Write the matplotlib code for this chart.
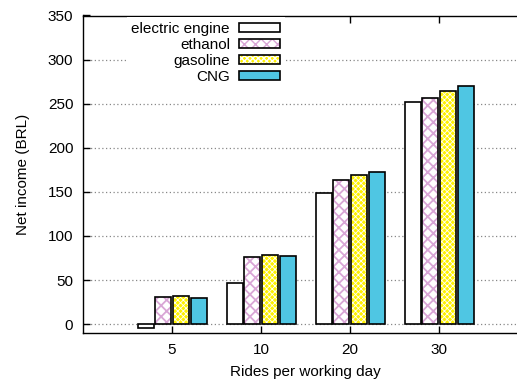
import matplotlib
matplotlib.use("Agg")
import matplotlib.pyplot as plt
import numpy as np
from matplotlib.patches import Patch
from matplotlib.legend_handler import HandlerTuple

categories = ["5", "10", "20", "30"]
series_names = ["electric engine", "ethanol", "gasoline", "CNG"]
electric = [-4, 46.5, 148.5, 252]
ethanol = [30.5, 76, 163.5, 256]
gasoline = [32, 78, 169, 264]
cng = [29.5, 77.5, 172, 270]
yticks = [0, 50, 100, 150, 200, 250, 300, 350]

plt.rcParams['font.family'] = ['Liberation Sans', 'DejaVu Sans']
plt.rcParams['font.size'] = 11

W, H = 517, 381
fig = plt.figure(figsize=(W / 100, H / 100), dpi=100)
ax = fig.add_axes([83 / W, (H - 333) / H, 445 / W, (333 - 15.5) / H])

x = np.arange(len(categories))
width = 0.18
offsets = [-0.295, -0.1, 0.1, 0.3]
styles = [
    dict(face='white', hatch=None, hcolor=None, hlw=1.0),
    dict(face='white', hatch='xxx', hcolor='#d9a6d6', hlw=1.3),
    dict(face='#fff200', hatch='xxxxxx', hcolor='white', hlw=0.6),
    dict(face='#4fc6e3', hatch=None, hcolor=None, hlw=1.0),
]
data = [electric, ethanol, gasoline, cng]


def set_hlw(p, lw):
    if hasattr(p, 'set_hatch_linewidth'):
        p.set_hatch_linewidth(lw)


handles = []
for vals, off, st, name in zip(data, offsets, styles, series_names):
    with plt.rc_context({'hatch.linewidth': st['hlw']}):
        if st['hatch']:
            bars = ax.bar(x + off, vals, width, color=st['face'], edgecolor=st['hcolor'],
                          hatch=st['hatch'], linewidth=0, zorder=2)
            h1 = Patch(facecolor=st['face'], edgecolor=st['hcolor'], hatch=st['hatch'], linewidth=0)
            for b in bars:
                set_hlw(b, st['hlw'])
            set_hlw(h1, st['hlw'])
        else:
            ax.bar(x + off, vals, width, color=st['face'], linewidth=0, zorder=2)
            h1 = Patch(facecolor=st['face'], linewidth=0)
    ax.bar(x + off, vals, width, fill=False, edgecolor='black', linewidth=1.2, zorder=3)
    h2 = Patch(fill=False, edgecolor='black', linewidth=1.2)
    handles.append((h1, h2))

ax.set_xlim(-1, 4)
ax.set_ylim(-10, 350)
ax.set_xticks(x)
ax.set_xticklabels(categories)
ax.set_yticks(yticks)
ax.tick_params(axis='both', direction='in', length=5, width=1, top=True, right=True, pad=7)
ax.yaxis.grid(True, color='#888888', linestyle=(0, (1, 2)), linewidth=0.9, zorder=0)
ax.set_axisbelow(True)
for sp in ax.spines.values():
    sp.set_linewidth(1.0)
    sp.set_color('black')

ax.set_xlabel("Rides per working day", labelpad=6)
ax.set_ylabel("Net income (BRL)", labelpad=13)

leg = ax.legend(handles, series_names, handler_map={tuple: HandlerTuple(ndivide=1, pad=0)},
                loc='upper right', bbox_to_anchor=(285 / W, 1 - 17 / H),
                bbox_transform=fig.transFigure, markerfirst=False,
                handlelength=2.7, handleheight=0.55, handletextpad=0.6,
                labelspacing=0.13, borderpad=0.3, borderaxespad=0,
                frameon=True, fancybox=False, framealpha=1, edgecolor='none',
                facecolor='white')
leg.set_zorder(5)

fig.savefig("out.png", dpi=100)
